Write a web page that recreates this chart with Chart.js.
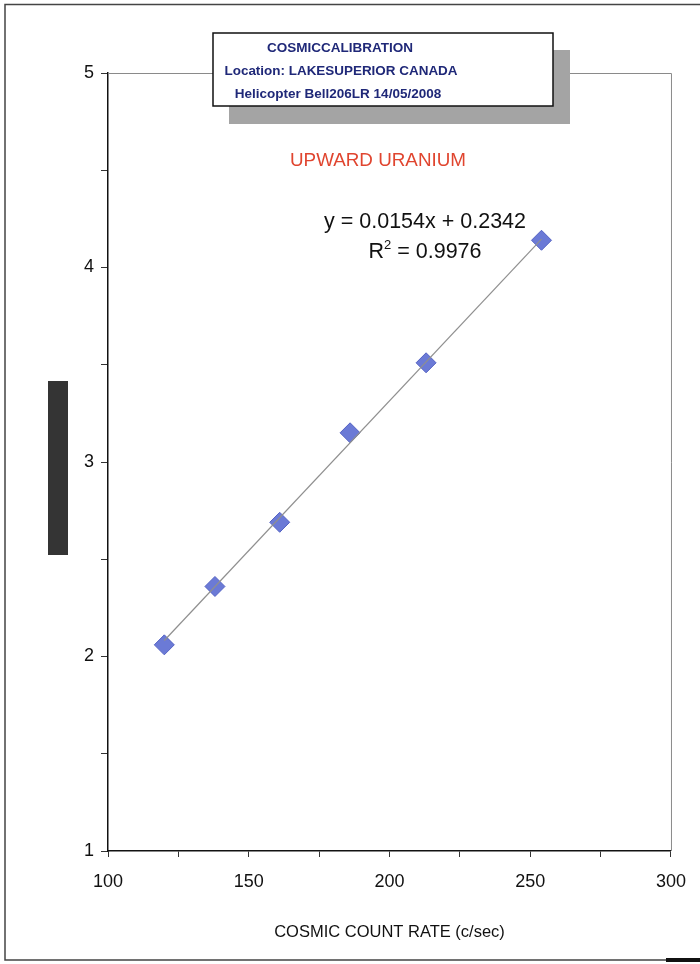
<!DOCTYPE html>
<html>
<head>
<meta charset="utf-8">
<script src="https://cdn.jsdelivr.net/npm/chart.js@4.4.1/dist/chart.umd.min.js"></script>
<style>
  body { margin: 0; background: #fff; }
  canvas { display: block; }
</style>
</head>
<body>
<canvas id="cosmicChart" width="700" height="964"></canvas>
<script>
// cosmic count rate (c/sec) vs upward uranium
const cosmicRate = [120, 138, 161, 186, 213, 254];
const upwardU = [2.06, 2.36, 2.69, 3.15, 3.51, 4.14];
const fitSlope = 0.0154;
const fitIntercept = 0.2342;
const fitR2 = '0.9976';
const xLabels = [100, 150, 200, 250, 300];
const yLabels = [1, 2, 3, 4, 5];
const boxLines = ['COSMICCALIBRATION', 'Location: LAKESUPERIOR CANADA', 'Helicopter Bell206LR 14/05/2008'];

const points = cosmicRate.map((x, i) => ({ x: x, y: upwardU[i] }));
const xMin = Math.min(...cosmicRate), xMax = Math.max(...cosmicRate);
const trend = [
  { x: xMin, y: fitSlope * xMin + fitIntercept },
  { x: xMax, y: fitSlope * xMax + fitIntercept }
];

const FONT = '"Liberation Sans", Arial, sans-serif';

// extras: frame, text box, titles, equation
const decor = {
  id: 'decor',
  beforeDraw(chart) {
    const ctx = chart.ctx;
    ctx.save();
    ctx.fillStyle = '#fff';
    ctx.fillRect(0, 0, chart.width, chart.height);
    ctx.restore();
  },
  afterDraw(chart) {
    const ctx = chart.ctx;
    const a = chart.chartArea;
    ctx.save();

    // top and right edge of plot
    ctx.strokeStyle = '#8a8a8a';
    ctx.lineWidth = 1;
    ctx.beginPath();
    ctx.moveTo(a.left, a.top + 0.5);
    ctx.lineTo(a.right + 0.5, a.top + 0.5);
    ctx.lineTo(a.right + 0.5, a.bottom);
    ctx.stroke();

    // page frame
    ctx.strokeStyle = '#444';
    ctx.lineWidth = 1.5;
    ctx.beginPath();
    ctx.moveTo(700, 4.5);
    ctx.lineTo(5, 4.5);
    ctx.lineTo(5, 960);
    ctx.lineTo(700, 960);
    ctx.stroke();
    ctx.fillStyle = '#111';
    ctx.fillRect(666, 958, 34, 4);

    // dark bar on left
    ctx.fillStyle = '#343434';
    ctx.fillRect(48, 381, 20, 174);

    // header box with shadow
    ctx.fillStyle = '#a4a4a4';
    ctx.fillRect(229, 50, 341, 74);
    ctx.fillStyle = '#fff';
    ctx.fillRect(213, 33, 340, 73);
    ctx.strokeStyle = '#111';
    ctx.lineWidth = 1.5;
    ctx.strokeRect(213, 33, 340, 73);
    ctx.fillStyle = '#1f2878';
    ctx.font = 'bold 13.5px ' + FONT;
    ctx.textAlign = 'center';
    ctx.textBaseline = 'alphabetic';
    ctx.fillText(boxLines[0], 340, 52, 146);
    ctx.fillText(boxLines[1], 341, 75, 233);
    ctx.fillText(boxLines[2], 338, 98, 222);

    // series title
    ctx.fillStyle = '#e0452f';
    ctx.font = '19px ' + FONT;
    ctx.fillText('UPWARD URANIUM', 378, 166, 176);

    // regression text
    ctx.fillStyle = '#111';
    ctx.font = '21.5px ' + FONT;
    ctx.fillText('y = ' + fitSlope + 'x + ' + fitIntercept, 425, 228, 206);
    ctx.textAlign = 'left';
    const r = 'R', rest = ' = ' + fitR2;
    const rw = ctx.measureText(r).width;
    ctx.font = '13px ' + FONT;
    const sw = ctx.measureText('2').width;
    ctx.font = '21.5px ' + FONT;
    const restW = ctx.measureText(rest).width;
    let x0 = 425 - (rw + sw + restW) / 2;
    ctx.fillText(r, x0, 258);
    ctx.font = '13px ' + FONT;
    ctx.fillText('2', x0 + rw, 249);
    ctx.font = '21.5px ' + FONT;
    ctx.fillText(rest, x0 + rw + sw, 258);

    ctx.restore();
  }
};

new Chart(document.getElementById('cosmicChart'), {
  type: 'scatter',
  data: {
    datasets: [{
      label: 'trend',
      type: 'line',
      data: trend,
      borderColor: '#8f8f8f',
      borderWidth: 1.2,
      pointRadius: 0,
      fill: false,
      order: 0
    }, {
      label: 'Upward U',
      data: points,
      pointStyle: 'rectRot',
      pointRadius: 10,
      pointHoverRadius: 10,
      backgroundColor: '#6b7ad6',
      borderColor: '#5563c4',
      borderWidth: 1,
      order: 1
    }]
  },
  options: {
    responsive: false,
    animation: false,
    devicePixelRatio: 1,
    layout: { padding: { top: 73, right: 28, left: 0, bottom: 0 } },
    plugins: {
      legend: { display: false },
      tooltip: { enabled: false }
    },
    scales: {
      x: {
        type: 'linear',
        min: 100,
        max: 300,
        afterFit: s => { s.height = 113; },
        ticks: {
          stepSize: 25,
          autoSkip: false,
          maxRotation: 0,
          padding: 14,
          color: '#111',
          font: { family: FONT, size: 18 },
          callback: v => xLabels.includes(v) ? v : ''
        },
        grid: { drawOnChartArea: false, tickLength: 6, color: '#333' },
        border: { color: '#111', width: 1.5 },
        title: {
          display: true,
          text: 'COSMIC COUNT RATE (c/sec)',
          color: '#111',
          font: { family: FONT, size: 16.5 },
          padding: { top: 0, bottom: 22 }
        }
      },
      y: {
        min: 1,
        max: 5,
        afterFit: s => { s.width = 108; },
        ticks: {
          stepSize: 0.5,
          autoSkip: false,
          padding: 7,
          color: '#111',
          font: { family: FONT, size: 18 },
          callback: v => yLabels.includes(v) ? v : ''
        },
        grid: { drawOnChartArea: false, tickLength: 7, color: '#333' },
        border: { color: '#111', width: 1.5 }
      }
    }
  },
  plugins: [decor]
});
</script>
</body>
</html>
